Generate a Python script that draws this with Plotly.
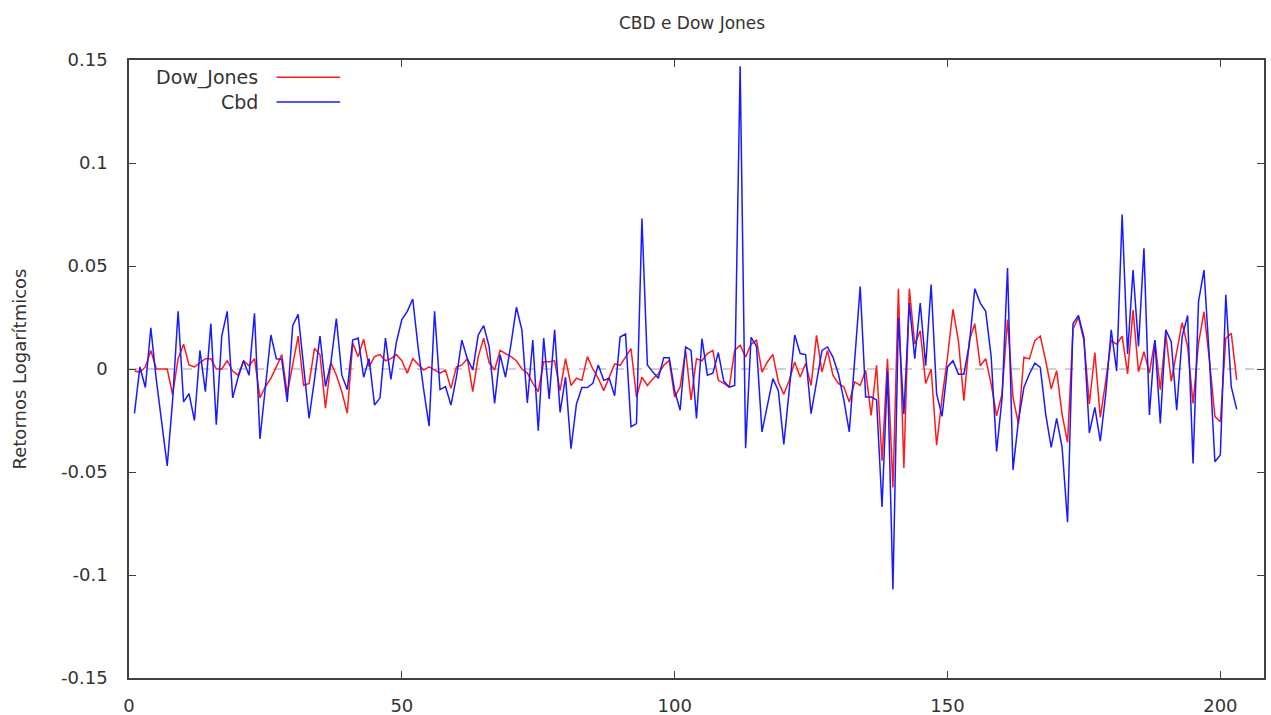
import plotly.graph_objects as go

# ---------------- data ----------------
obs = list(range(1, 204))

dow_jones = [
    -0.001, -0.0015, 0.001, 0.009, 0.0, 0.0, 0.0, -0.0125, 0.005, 0.012,
    0.002, 0.001, 0.003, 0.005, 0.005, 0.0, 0.0, 0.004, -0.001, -0.003,
    0.004, 0.0015, 0.005, -0.014, -0.0085, -0.0045, 0.001, 0.007, -0.012, 0.002,
    0.016, -0.008, -0.007, 0.010, 0.007, -0.019, 0.003, -0.003, -0.011, -0.0215,
    0.0125, 0.006, 0.0145, 0.001, 0.006, 0.007, 0.004, 0.005, 0.007, 0.004,
    -0.002, 0.005, 0.002, -0.0005, 0.001, -0.0005, -0.002, -0.0005, -0.0094, 0.001,
    0.002, 0.005, -0.011, 0.006, 0.015, 0.003, -0.0005, 0.009, 0.0075, 0.006,
    0.004, 0.0, -0.002, -0.007, -0.011, 0.0035, 0.0035, 0.004, -0.0105, 0.005,
    -0.008, -0.0045, -0.0055, 0.006, 0.0, -0.0045, -0.0105, -0.004, 0.0025, 0.0018,
    0.006, 0.0099, -0.0136, -0.004, -0.008, -0.0047, -0.0023, 0.0018, 0.0042, -0.0136,
    -0.0087, 0.009, -0.015, 0.005, 0.004, 0.0075, 0.009, -0.0055, -0.007, -0.0087,
    0.009, 0.0115, 0.0058, 0.012, 0.014, -0.0015, 0.0034, 0.0071, -0.0063, -0.0123,
    -0.0055, 0.0034, -0.0039, 0.0026, -0.008, 0.0163, -0.0015, 0.009, -0.003, -0.007,
    -0.0087, -0.016, -0.0063, -0.008, -0.0006, -0.0225, 0.0018, -0.0445, 0.005, -0.0575,
    0.039, -0.048, 0.039, 0.012, 0.0186, -0.007, 0.0, -0.037, -0.014, 0.0057,
    0.029, 0.0138, -0.0154, 0.0138, 0.022, 0.0016, 0.005, -0.0073, -0.0227, -0.012,
    0.024, -0.0138, -0.0267, 0.0057, 0.0049, 0.0138, 0.016, 0.004, -0.0097, -0.0008,
    -0.022, -0.0356, 0.0194, 0.025, 0.0138, -0.017, 0.008, -0.0235, -0.0057, 0.0138,
    0.012, 0.016, -0.0024, 0.0286, -0.0013, 0.0084, -0.002, 0.014, -0.010, 0.0173,
    -0.006, 0.0076, 0.0225, 0.0108, -0.0167, 0.0125, 0.0278, 0.0044, -0.0231, -0.0256,
    0.0149, 0.0173, -0.0053,
]

cbd = [
    -0.0215, 0.001, -0.009, 0.020, -0.005, -0.025, -0.047, -0.015, 0.028, -0.016,
    -0.012, -0.025, 0.009, -0.011, 0.022, -0.027, 0.016, 0.028, -0.014, -0.004,
    0.004, -0.003, 0.027, -0.034, -0.008, 0.0165, 0.005, 0.0047, -0.016, 0.021,
    0.0265, 0.0, -0.024, -0.005, 0.016, -0.0085, 0.003, 0.0245, -0.003, -0.010,
    0.014, 0.015, -0.004, 0.005, -0.0175, -0.014, 0.015, -0.005, 0.013, 0.024,
    0.028, 0.034, 0.010, -0.010, -0.0277, 0.028, -0.010, -0.0085, -0.0175, -0.004,
    0.014, 0.005, -0.0005, 0.0165, 0.021, 0.011, -0.0167, 0.007, -0.004, 0.012,
    0.030, 0.019, -0.0165, 0.014, -0.030, 0.015, -0.0145, 0.019, -0.021, -0.004,
    -0.0387, -0.017, -0.009, -0.009, -0.007, 0.002, -0.0055, -0.0045, -0.013, 0.0155,
    0.017, -0.028, -0.0265, 0.073, 0.002, -0.0015, -0.0045, 0.0055, 0.0055, -0.0105,
    -0.020, 0.0107, 0.009, -0.024, 0.0147, -0.003, -0.002, 0.008, -0.006, -0.0088,
    -0.008, 0.147, -0.0385, 0.0154, 0.011, -0.0305, -0.018, -0.0047, -0.0105, -0.0366,
    -0.010, 0.0165, 0.0075, 0.007, -0.0217, -0.007, 0.009, 0.0107, 0.0058, -0.0023,
    -0.015, -0.0305, 0.0042, 0.040, -0.0136, -0.0136, -0.015, -0.067, -0.001, -0.107,
    0.025, -0.022, 0.032, 0.005, 0.032, 0.0016, 0.041, -0.012, -0.023, 0.001,
    0.004, -0.0025, -0.0025, 0.012, 0.039, 0.032, 0.028, 0.006, -0.040, -0.014,
    0.049, -0.049, -0.025, -0.009, -0.0024, 0.0028, 0.0008, -0.022, -0.038, -0.024,
    -0.038, -0.0744, 0.022, 0.026, 0.0154, -0.031, -0.0186, -0.035, -0.012, 0.019,
    -0.001, 0.075, 0.0073, 0.048, 0.011, 0.0586, -0.0223, 0.014, -0.0264, 0.019,
    0.0133, -0.020, 0.0157, 0.026, -0.0458, 0.0327, 0.048, 0.005, -0.045, -0.0417,
    0.036, -0.0086, -0.0196,
]

x_ticks = [0, 50, 100, 150, 200]
y_ticks = [-0.15, -0.1, -0.05, 0, 0.05, 0.1, 0.15]
y_tick_labels = ["-0.15", "-0.1", "-0.05", "0", "0.05", "0.1", "0.15"]

series_names = ["Dow_Jones", "Cbd"]
series_colors = ["#ff1a1a", "#1a1aff"]

# ---------------- figure ----------------
FONT = "DejaVu Sans"
TXT = "#333333"

fig = go.Figure()
for name, vals, col in zip(series_names, [dow_jones, cbd], series_colors):
    fig.add_trace(go.Scatter(
        x=obs, y=vals, mode="lines", name=name,
        line=dict(color=col, width=1.5), showlegend=False,
    ))

# dashed zero axis
fig.add_shape(type="line", xref="paper", yref="y", x0=0, x1=1, y0=0, y1=0,
              line=dict(color="#a0a0a0", width=1, dash="dash"), layer="below")

# gnuplot-style legend (text right aligned, sample on the right)
leg_y = [0.972, 0.932]
for name, col, yy in zip(series_names, series_colors, leg_y):
    fig.add_annotation(xref="paper", yref="paper", x=0.1154, y=yy,
                       text=name, showarrow=False, xanchor="right", yanchor="middle",
                       font=dict(family=FONT, size=19, color=TXT))
    fig.add_shape(type="line", xref="paper", yref="paper",
                  x0=0.130, x1=0.186, y0=yy, y1=yy,
                  line=dict(color=col, width=1.5))

axis_common = dict(
    showline=True, linecolor="#404040", linewidth=1.5, mirror="ticks",
    ticks="inside", ticklen=7, tickcolor="#404040", tickwidth=1.2,
    showgrid=False, zeroline=False, automargin=False,
    tickfont=dict(family=FONT, size=18, color=TXT),
)

fig.update_layout(
    width=1271, height=715,
    margin=dict(l=129, r=7, t=60, b=37),
    paper_bgcolor="white", plot_bgcolor="white",
    title=dict(text="CBD e Dow Jones", x=0.5445, xanchor="center", y=0.968, yanchor="middle",
               font=dict(family=FONT, size=17, color=TXT)),
    xaxis=dict(range=[0, 208], tickvals=x_ticks, ticklabelstandoff=11, **axis_common),
    yaxis=dict(range=[-0.15, 0.15], tickvals=y_ticks, ticktext=y_tick_labels,
               ticklabelstandoff=16,
               title=dict(text="Retornos Logarítmicos", standoff=30,
                          font=dict(family=FONT, size=18, color=TXT)),
               **axis_common),
)

fig.write_html("out.html")
